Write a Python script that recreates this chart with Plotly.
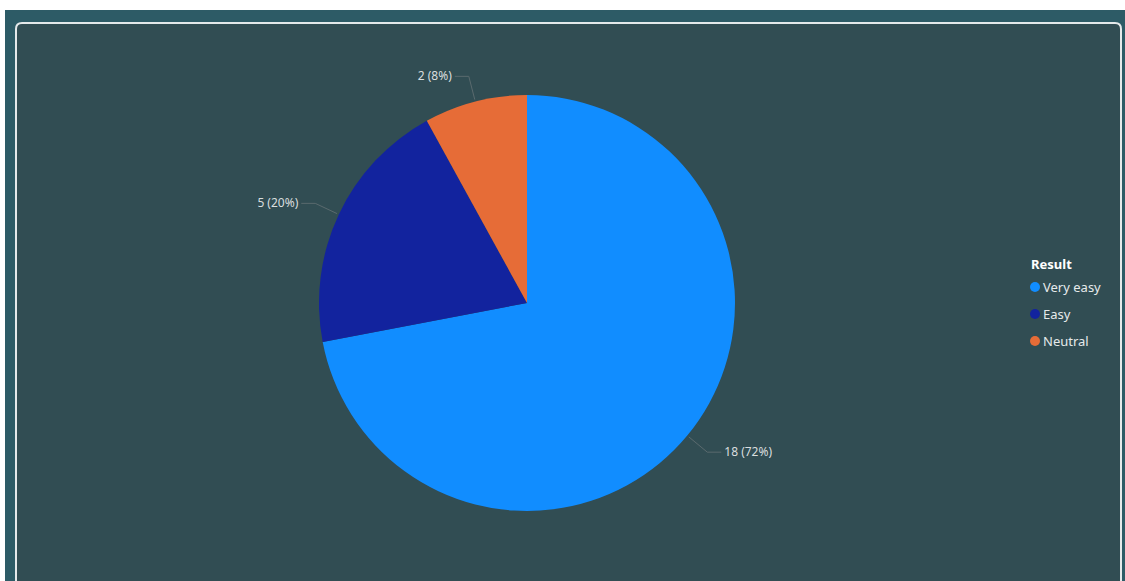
import math
import plotly.graph_objects as go

# Survey result counts
categories = ["Very easy", "Easy", "Neutral"]
counts = [18, 5, 2]
colors = ["#118DFF", "#12239E", "#E66C37"]
legend_title = "Result"

W, H = 1125, 581
FONT = "Segoe UI, Noto Sans, DejaVu Sans, sans-serif"

# Pie geometry (pixels)
cx, cy, r = 527, 303, 208

fig = go.Figure()

fig.add_trace(go.Pie(
    labels=categories,
    values=counts,
    marker=dict(colors=colors, line=dict(width=0)),
    sort=False,
    direction="clockwise",
    rotation=0,
    textinfo="none",
    hoverinfo="skip",
    showlegend=False,
    domain=dict(x=[(cx - r) / W, (cx + r) / W],
                y=[(H - (cy + r)) / H, (H - (cy - r)) / H]),
))

# Leader lines and outside labels, placed at each slice's mid-angle
total = sum(counts)
lx, ly = [], []
tx, ty, tt, tpos = [], [], [], []
cum = 0
for v in counts:
    mid = (cum + v / 2) / total * 2 * math.pi
    cum += v
    sx, sy = math.sin(mid), -math.cos(mid)
    x0, y0 = cx + (r + 2) * sx, cy + (r + 2) * sy
    x1, y1 = cx + (r + 26) * sx, cy + (r + 26) * sy
    side = 1 if sx >= 0 else -1
    x2 = x1 + 14 * side
    lx += [x0, x1, x2, None]
    ly += [y0, y1, y1, None]
    tx.append(x2 + 3 * side)
    ty.append(y1 + 1)
    tt.append(f"{v} ({round(v / total * 100)}%)")
    tpos.append("middle right" if side > 0 else "middle left")

fig.add_trace(go.Scatter(
    x=lx, y=ly, mode="lines",
    line=dict(color="#5A6A6E", width=1),
    hoverinfo="skip", showlegend=False,
))
fig.add_trace(go.Scatter(
    x=tx, y=ty, mode="text", text=tt, textposition=tpos,
    textfont=dict(family=FONT, size=12, color="#D9DEDF"),
    hoverinfo="skip", showlegend=False,
))

shapes = [
    # outer band
    dict(type="rect", xref="x", yref="y", x0=5, y0=10, x1=W, y1=H + 5,
         fillcolor="#2D5B66", line=dict(width=0), layer="below"),
]
# inner rounded panel
px0, py0, px1, py1, rad = 16, 23, 1121, 620, 6
path = (f"M{px0},{py1} L{px0},{py0 + rad} Q{px0},{py0} {px0 + rad},{py0} "
        f"L{px1 - rad},{py0} Q{px1},{py0} {px1},{py0 + rad} L{px1},{py1} Z")
shapes.append(dict(type="path", xref="x", yref="y", path=path,
                   fillcolor="#314D53", line=dict(color="#E4E9EA", width=2),
                   layer="below"))

# Legend drawn as circle markers and labels
annotations = [dict(x=1029, y=264, xref="x", yref="y", text=f"<b>{legend_title}</b>",
                    showarrow=False, xanchor="left", yanchor="middle",
                    font=dict(family=FONT, size=13, color="#FFFFFF"))]
for i, (name, col) in enumerate(zip(categories, colors)):
    yy = 287 + 27 * i
    shapes.append(dict(type="circle", xref="x", yref="y",
                       x0=1030, x1=1040, y0=yy - 5, y1=yy + 5,
                       fillcolor=col, line=dict(width=0)))
    annotations.append(dict(x=1041, y=yy, xref="x", yref="y", text=name,
                            showarrow=False, xanchor="left", yanchor="middle",
                            font=dict(family=FONT, size=13, color="#E6EAEB")))

fig.update_layout(
    width=W, height=H,
    margin=dict(l=0, r=0, t=0, b=0),
    paper_bgcolor="#FFFFFF",
    plot_bgcolor="rgba(0,0,0,0)",
    xaxis=dict(range=[0, W], visible=False, fixedrange=True, domain=[0, 1]),
    yaxis=dict(range=[H, 0], visible=False, fixedrange=True, domain=[0, 1]),
    shapes=shapes,
    annotations=annotations,
    showlegend=False,
)

fig.write_html("out.html", config={"displayModeBar": False})
